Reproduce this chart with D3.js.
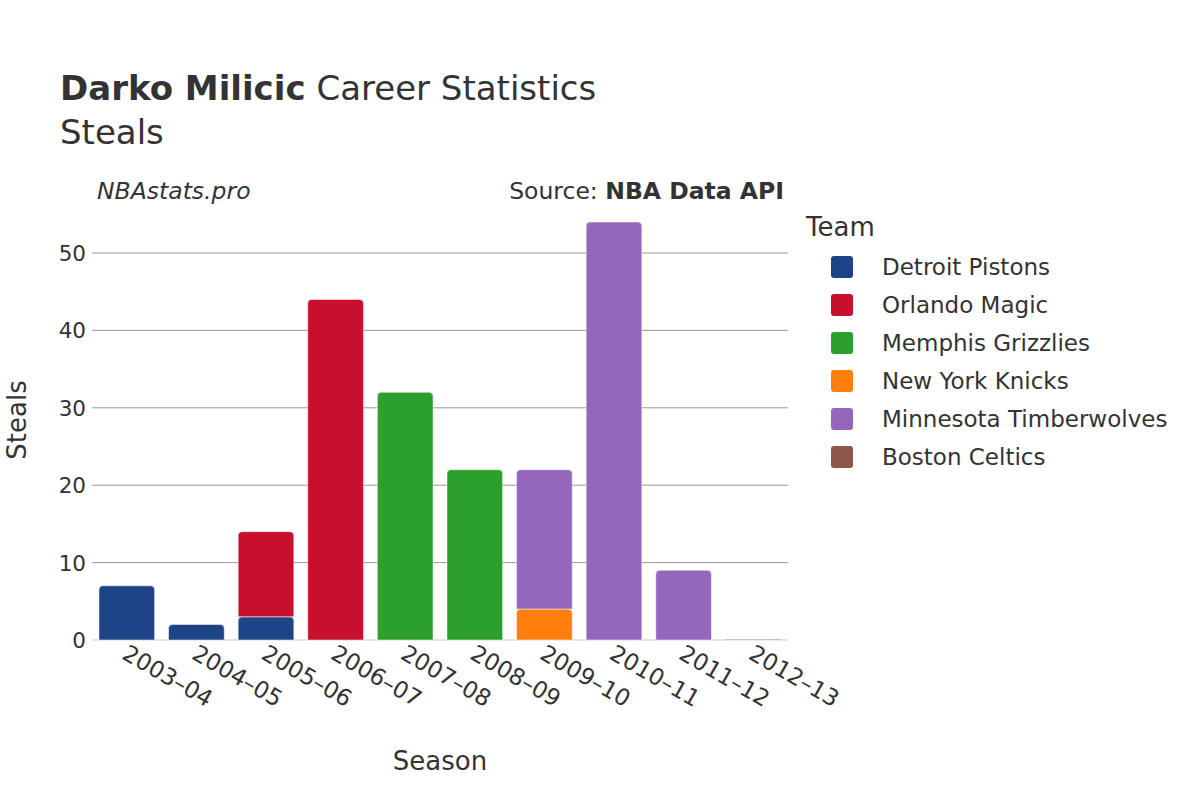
<!DOCTYPE html>
<html><head><meta charset="utf-8">
<script src="https://cdn.jsdelivr.net/npm/d3@7"></script>
<style>body{margin:0;background:#fff}svg{font-family:"DejaVu Sans",sans-serif}</style>
</head><body><svg id="c" width="1200" height="800"></svg>
<script>
const seasons=["2003–04","2004–05","2005–06","2006–07","2007–08","2008–09","2009–10","2010–11","2011–12","2012–13"];
const teams=["Detroit Pistons","Orlando Magic","Memphis Grizzlies","New York Knicks","Minnesota Timberwolves","Boston Celtics"];
const colors=["#1f4387","#c8102e","#2ca02c","#ff7f0e","#9467bd","#8c564b"];
const detroit=[7,2,3,0,0,0,0,0,0,0];
const orlando=[0,0,11,44,0,0,0,0,0,0];
const memphis=[0,0,0,0,32,22,0,0,0,0];
const knicks=[0,0,0,0,0,0,4,0,0,0];
const minnesota=[0,0,0,0,0,0,18,54,9,0];
const boston=[0,0,0,0,0,0,0,0,0,0.1];
const yTicks=[0,10,20,30,40,50];
const series=[detroit,orlando,memphis,knicks,minnesota,boston];

const svg=d3.select("#c");
const x=d3.scaleBand().domain(seasons).range([92,788]).paddingInner(0.2).paddingOuter(0.1);
const y=d3.scaleLinear().domain([0,50]).range([640,253]);
const g=svg.append("g");
g.selectAll("line.grid").data(yTicks).join("line").attr("x1",92).attr("x2",788)
 .attr("y1",d=>y(d)).attr("y2",d=>y(d)).attr("stroke",d=>d===0?"#e5e5e5":"#999").attr("stroke-width",d=>d===0?2:1);
g.selectAll("text.yt").data(yTicks).join("text").attr("x",86).attr("y",d=>y(d)+8)
 .attr("text-anchor","end").attr("font-size",21.5).attr("fill","#333").text(d=>d);
seasons.forEach((s,i)=>{
  let base=0;
  series.forEach((arr,t)=>{
    const v=arr[i]; if(!v) return;
    const y0=y(base),y1=y(base+v);
    const w=x.bandwidth(),x0=x(s),r=Math.min(4,(y0-y1)/2);
    g.append("path").attr("fill",colors[t]).attr("stroke","#fff").attr("stroke-width",0.5)
     .attr("d",`M${x0},${y0}V${y1+r}Q${x0},${y1} ${x0+r},${y1}H${x0+w-r}Q${x0+w},${y1} ${x0+w},${y1+r}V${y0}Z`);
    base+=v;
  });
  svg.append("text").attr("transform",`translate(${x(s)+x.bandwidth()/2-6},${658}) rotate(30)`)
   .attr("font-size",23).attr("fill","#333").text(s);
});
svg.append("text").attr("x",60).attr("y",100).attr("font-size",34).attr("fill","#333")
 .html('<tspan font-weight="bold">Darko Milicic</tspan> Career Statistics');
svg.append("text").attr("x",60).attr("y",144).attr("font-size",34).attr("fill","#333").text("Steals");
svg.append("text").attr("x",97).attr("y",199).attr("font-size",23.5).attr("font-style","italic").attr("fill","#333").text("NBAstats.pro");
svg.append("text").attr("x",784).attr("y",199).attr("font-size",23.5).attr("text-anchor","end").attr("fill","#333")
 .html('Source: <tspan font-weight="bold">NBA Data API</tspan>');
svg.append("text").attr("x",440).attr("y",770).attr("font-size",26).attr("text-anchor","middle").attr("fill","#333").text("Season");
svg.append("text").attr("transform","translate(26,420) rotate(-90)").attr("font-size",26).attr("text-anchor","middle").attr("fill","#333").text("Steals");
svg.append("text").attr("x",806).attr("y",236).attr("font-size",26).attr("fill","#333").text("Team");
teams.forEach((t,i)=>{
  const yy=267+38*i;
  svg.append("rect").attr("x",831).attr("y",yy-11).attr("width",22).attr("height",22).attr("rx",3).attr("fill",colors[i]);
  svg.append("text").attr("x",882).attr("y",yy+8).attr("font-size",23).attr("fill","#333").text(t);
});
</script></body></html>
